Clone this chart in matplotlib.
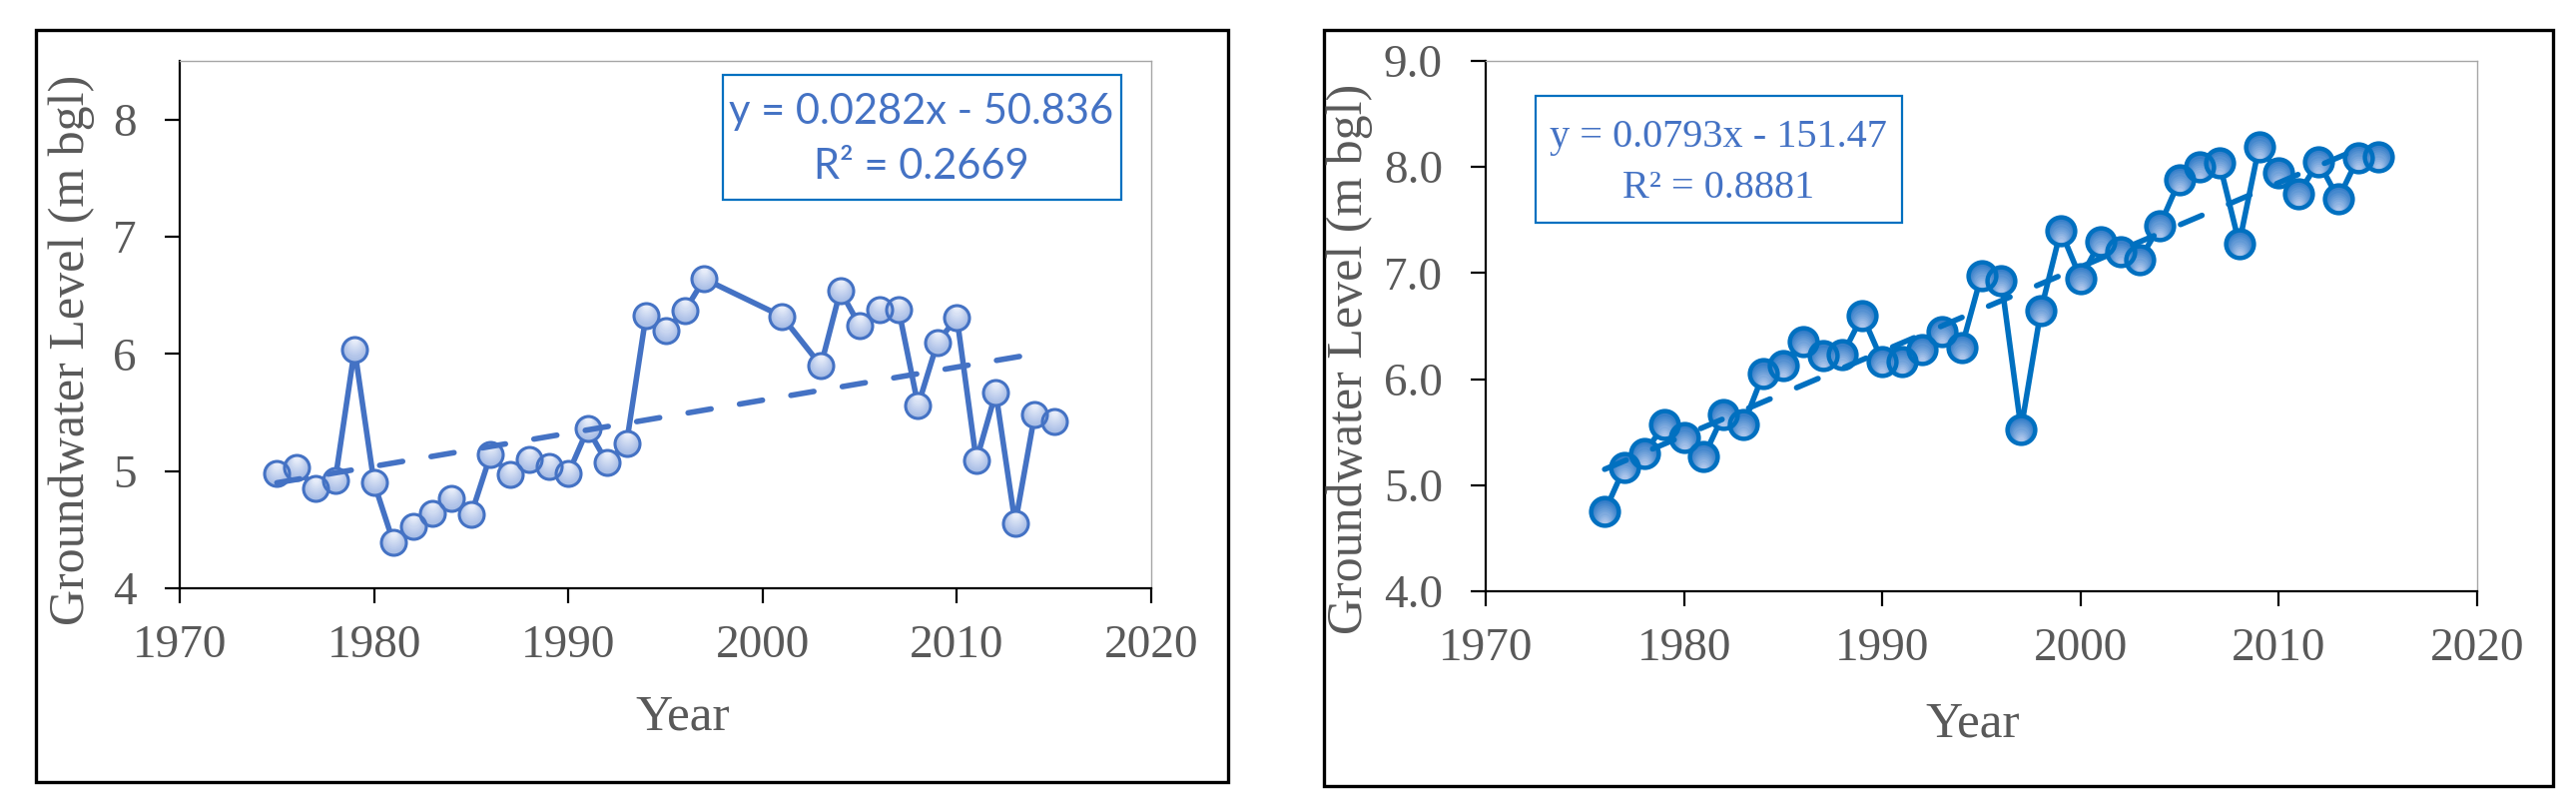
import numpy as np
import matplotlib
matplotlib.use("Agg")
import matplotlib.pyplot as plt
from matplotlib.patches import Rectangle
from matplotlib.colors import to_rgb
from matplotlib.transforms import offset_copy

# left panel: groundwater level per year (m bgl)
years_a = [1975, 1976, 1977, 1978, 1979, 1980, 1981, 1982, 1983, 1984, 1985,
           1986, 1987, 1988, 1989, 1990, 1991, 1992, 1993, 1994, 1995, 1996,
           1997, 2001, 2003, 2004, 2005, 2006, 2007, 2008, 2009, 2010, 2011,
           2012, 2013, 2014, 2015]
level_a = [4.98, 5.03, 4.85, 4.92, 6.04, 4.90, 4.39, 4.53, 4.64, 4.77, 4.63,
           5.14, 4.97, 5.10, 5.04, 4.98, 5.36, 5.07, 5.24, 6.33, 6.20, 6.37,
           6.64, 6.32, 5.90, 6.54, 6.24, 6.38, 6.38, 5.56, 6.10, 6.31, 5.09,
           5.67, 4.55, 5.48, 5.42]
trend_a_x = [1975, 2014]
trend_a_y = [4.90, 6.00]
label_a = ["y = 0.0282x - 50.836", "R\u00b2 = 0.2669"]

# right panel
years_b = list(range(1976, 2016))
level_b = [4.75, 5.17, 5.30, 5.57, 5.45, 5.27, 5.67, 5.57, 6.05, 6.13,
           6.35, 6.22, 6.23, 6.60, 6.17, 6.17, 6.28, 6.45, 6.30, 6.98,
           6.93, 5.53, 6.65, 7.40, 6.95, 7.30, 7.20, 7.13, 7.45, 7.88,
           8.00, 8.04, 7.28, 8.19, 7.95, 7.75, 8.05, 7.70, 8.09, 8.10]
trend_b_x = [1976, 2014]
trend_b_y = [5.15, 8.17]
label_b = ["y = 0.0793x - 151.47", "R\u00b2 = 0.8881"]

W, H = 2580, 809
fig = plt.figure(figsize=(W / 100, H / 100), dpi=100)
fig.patch.set_facecolor("white")


def fx(x):
    return x / W


def fy(y):
    return 1 - y / H


gray = "#595959"
serif = "Liberation Serif"


def gradient_markers(ax, x, y, ms, c_base, c_end, up, n=10):
    # fake a vertical gradient fill: stack of shrinking discs tangent at one side
    c0, c1 = np.array(to_rgb(c_base)), np.array(to_rgb(c_end))
    for k in range(n):
        f = k / n
        d = ms * (1 - 0.85 * f)
        dy = (ms - d) / 2 * (1 if up else -1)
        tr = offset_copy(ax.transData, fig=fig, x=0, y=dy, units="points")
        ax.plot(x, y, ls="none", marker="o", ms=d, mew=0,
                mfc=tuple(c0 + (c1 - c0) * f), transform=tr, zorder=3)


def panel(rect, years, level, tx, ty, color, grad, ms, mew, ylim, yfmt):
    ax = fig.add_axes(rect)
    ax.plot(years, level, color=color, lw=4.0, zorder=2)
    gradient_markers(ax, years, level, ms, *grad)
    ax.plot(years, level, ls="none", marker="o", ms=ms, mfc="none",
            mec=color, mew=mew, zorder=3.5)
    ax.plot(tx, ty, color=color, lw=4.0, ls=(0, (4.2, 5.2)),
            dash_capstyle="round", zorder=4)
    ax.set_xlim(1970, 2020)
    ax.set_xticks(range(1970, 2021, 10))
    ax.set_ylim(*ylim)
    ax.set_yticks(np.arange(ylim[0], int(ylim[1]) + 0.01, 1))
    ax.set_yticklabels([yfmt % v for v in ax.get_yticks()])
    for s in ["left", "bottom"]:
        ax.spines[s].set_color("black")
        ax.spines[s].set_linewidth(1.6)
    for s in ["top", "right"]:
        ax.spines[s].set_color("#a6a6a6")
        ax.spines[s].set_linewidth(1.0)
    ax.tick_params(direction="out", length=11, width=1.6, color="black",
                   labelsize=34, labelcolor=gray)
    ax.tick_params(axis="x", pad=15)
    ax.tick_params(axis="y", pad=20)
    for t in ax.get_xticklabels() + ax.get_yticklabels():
        t.set_fontfamily(serif)
    return ax


panel([fx(180), fy(589), (1153 - 180) / W, (589 - 61) / H],
      years_a, level_a, trend_a_x, trend_a_y,
      "#4472C4", ("#a4bae5", "#eef2fb", True), 18, 2.2, (4, 8.5), "%d")
panel([fx(1488), fy(592), (2481 - 1488) / W, (592 - 61) / H],
      years_b, level_b, trend_b_x, trend_b_y,
      "#0070C0", ("#2a78c6", "#b8ccee", False), 20, 3.2, (4, 9), "%.1f")

# axis titles
for x, y in [(72, 350), (1352, 359)]:
    fig.text(fx(x), fy(y), "Groundwater Level (m bgl)", rotation=90,
             ha="center", va="center", fontsize=36, color=gray, family=serif)
for x, y in [(684, 718), (1976, 725)]:
    fig.text(fx(x), fy(y), "Year", ha="center", va="center",
             fontsize=37, color=gray, family=serif)

# equation boxes
fig.add_artist(Rectangle((fx(724), fy(200)), (1123 - 724) / W, (200 - 75) / H,
                         transform=fig.transFigure, fill=False,
                         ec="#0070C0", lw=1.6))
fig.text(fx(923), fy(112), label_a[0], ha="center", va="center",
         fontsize=30, color="#4472C4", family="Lato")
fig.text(fx(923), fy(167), label_a[1], ha="center", va="center",
         fontsize=30, color="#4472C4", family="Lato")

fig.add_artist(Rectangle((fx(1538), fy(223)), (1905 - 1538) / W, (223 - 96) / H,
                         transform=fig.transFigure, fill=False,
                         ec="#0070C0", lw=1.6))
fig.text(fx(1721), fy(137), label_b[0], ha="center", va="center",
         fontsize=29, color="#4472C4", family=serif)
fig.text(fx(1721), fy(188), label_b[1], ha="center", va="center",
         fontsize=29, color="#4472C4", family=serif)

# outer frames
for x0, y0, x1, y1 in [(36, 30, 1230, 783), (1326, 30, 2557, 787)]:
    fig.add_artist(Rectangle((fx(x0), fy(y1)), (x1 - x0) / W, (y1 - y0) / H,
                             transform=fig.transFigure, fill=False,
                             ec="black", lw=2.4))

fig.savefig("out.png", dpi=100, facecolor="white")
